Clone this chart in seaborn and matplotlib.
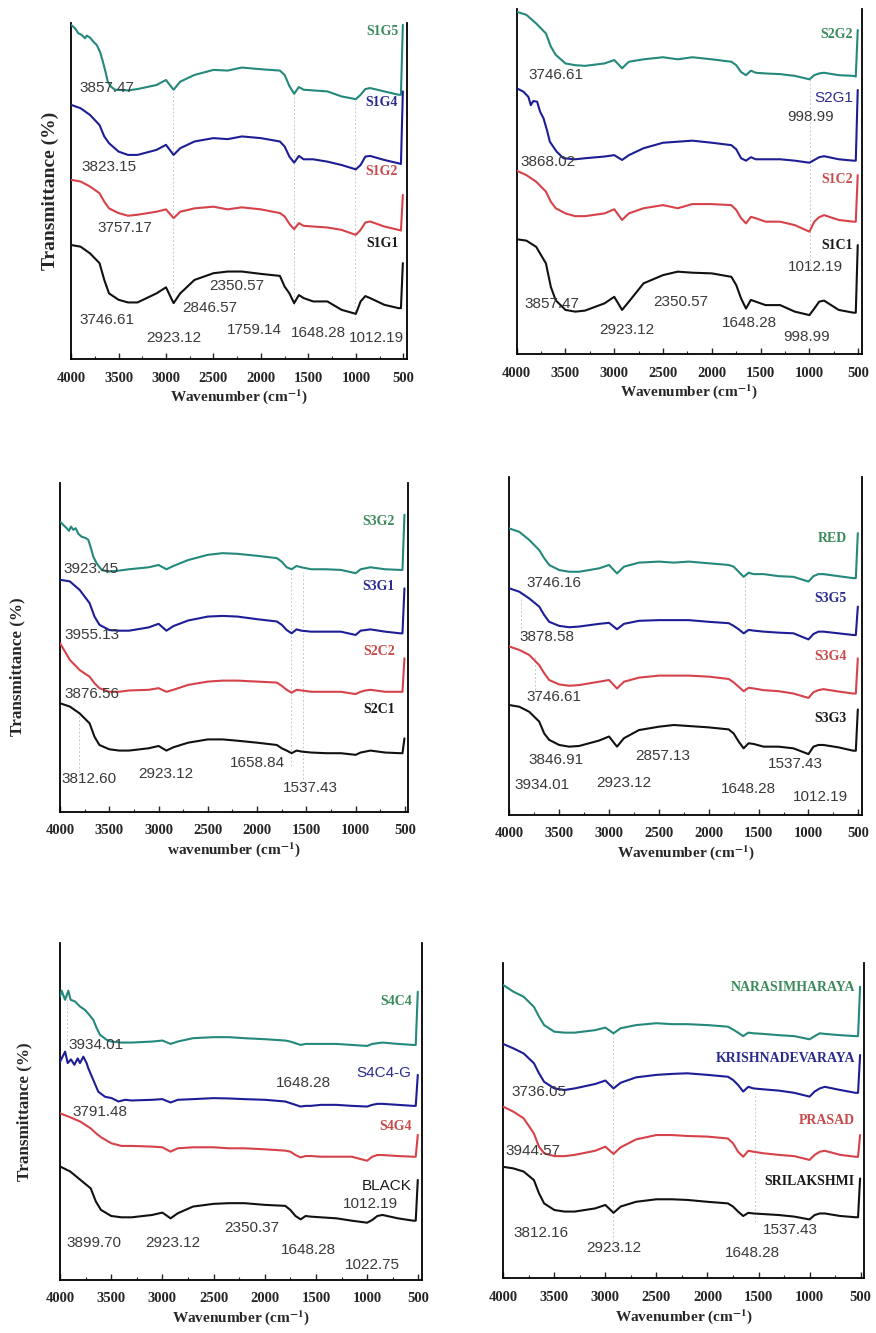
import matplotlib
matplotlib.use("Agg")
import matplotlib.pyplot as plt
import seaborn as sns
from matplotlib.ticker import MultipleLocator

# ---- data (offset transmittance, % of panel height) ----
WAVENUMBER = [4000, 3900, 3800, 3700, 3650, 3600, 3500, 3400, 3300, 3100, 3000, 2920,
              2850, 2700, 2500, 2350, 2200, 2000, 1800, 1750, 1700, 1650, 1600, 1550,
              1450, 1300, 1150, 1000, 950, 900, 850, 700, 550, 525, 505]

# noisy high-wavenumber ends get their own denser x
W_S1G5 = [4000, 3958, 3923, 3887, 3853, 3835, 3800, 3765, 3729, 3695, 3670, 3642, 3613, 3579, 3537] + WAVENUMBER[7:]
W_S2G1 = [4000, 3930, 3880, 3855, 3830, 3790, 3760, 3725, 3690, 3660, 3590, 3520] + WAVENUMBER[7:]
W_S3G2 = [4000, 3967, 3932, 3909, 3888, 3865, 3841, 3814, 3780, 3739, 3713, 3686, 3662, 3628, 3577, 3510] + WAVENUMBER[7:]
W_S4C4 = [4000, 3984, 3951, 3919, 3896, 3853, 3805, 3756, 3713, 3674, 3642, 3609, 3544] + WAVENUMBER[6:]
W_S4C4_G = [4000, 3950, 3925, 3893, 3860, 3827, 3805, 3772, 3740, 3724, 3675, 3626, 3560, 3495, 3430, 3365] + WAVENUMBER[8:]

S1G5 = [99.5, 98.5, 97, 96.5, 95.5, 96.3, 95.7, 94.5, 93.5, 91.5, 89.1, 86.1, 82.6, 81.1, 80.2,
        80, 80.4, 81.6, 83.1, 80.2, 82.6, 84.6, 86.1, 85.9, 86.8, 86.3, 85.9, 84.6, 81.3, 79, 81, 80.2,
        80, 79.7, 78.2, 77.4, 78.7, 80.4, 80.7, 79.7, 78.7, 78.7, 99.5]
S1G4 = [75.7, 74.7, 72.7, 69.7, 66.3, 64.3, 61.8, 60.8, 60.8, 62.3, 63.8, 60.8, 62.8, 64.8, 65.8, 65.5, 66.3, 65.8,
        64.8, 63.3, 60.3, 58.5, 60.5, 59.5, 59.5, 58.8, 57.8, 56.5, 57.8, 60.3, 60.5, 59.3, 58.3, 58.1, 79.7]
S1G2 = [53.4, 52.9, 51.4, 49.4, 46.9, 44.9, 43.5, 42.7, 43, 43.9, 44.6, 42, 43.9, 44.9, 45.4, 44.6, 45.2, 44.6,
        43.5, 42.5, 40.3, 38.7, 40.5, 39.7, 39.5, 39.2, 38.5, 37, 38.5, 40.7, 41, 39.5, 38.5, 38.3, 48.9]
S1G1 = [34, 33.5, 31.5, 28.6, 23.6, 19.6, 17.7, 16.9, 16.9, 19.6, 21.4, 16.7, 19.6, 23.6, 25.6, 26.1, 26.1, 25.4,
        24.8, 21.6, 19.6, 16.7, 19.1, 18.2, 17.2, 17.2, 14.7, 13.5, 17.2, 18.8, 18.2, 16.2, 15.2, 15.2, 28.6]

S2G2 = [99.3, 98.4, 95.9, 93, 89.2, 86.8, 84.3, 83.8, 83.6, 84.3, 85.3, 82.9, 84.8, 85.5, 86.1, 85.5, 86.1, 85.5,
        84.8, 83.8, 81.8, 80.9, 82.2, 81.6, 81.4, 81.2, 80.7, 79.7, 80.9, 81.4, 81.6, 80.9, 80.7, 80.5, 94]
S2G1 = [77.1, 76.1, 74.6, 72.2, 73.4, 73.2, 70.3, 68.4, 65, 61.6, 58.7, 56.8,
        56.5, 56.8, 57.3, 57.7, 56.3, 57.7, 59.7, 61.3, 61.6, 61.9, 61.3, 60.6, 59.4, 56.8, 56.1, 57.1,
        56.5, 56.5, 56.5, 56.1, 55.5, 56.3, 57.1, 57.4, 56.5, 56.1, 56.1, 76.6]
S1C2 = [53.2, 51.9, 50, 47.1, 44.2, 42.3, 40.8, 40, 40, 40.8, 42, 38.9, 40.8, 42.3, 43.2, 42.3, 43.5, 43.5,
        43.2, 41.8, 39.4, 37.9, 39.8, 39.4, 38.4, 38.4, 37.4, 35.5, 38.4, 39.7, 40.3, 38.9, 38.4, 38.4, 51.9]
S1C1 = [33.3, 32.9, 31.1, 26.3, 19.5, 15.6, 12.8, 12.3, 12.6, 14.7, 16.6, 12.8, 15.2, 20.5, 22.9, 23.9, 23.6, 23.4,
        22.4, 20, 16.1, 13.2, 15.7, 15.2, 14.2, 14.2, 12.3, 11.3, 13.2, 15.2, 15.5, 12.8, 12, 12, 31.6]

S3G2 = [88.3, 87.3, 86.3, 85.5, 86.8, 85.8, 86.3, 84.6, 83.7, 83.3, 82.8, 80.2, 77.6, 75.6, 73.6, 73.1,
        73.4, 73.8, 74.4, 75.1, 73.8, 74.8, 76.6, 78.2, 78.7, 78.5, 77.9, 77.2, 76.1, 74.4, 73.8, 74.8,
        74.4, 73.8, 73.8, 73.6, 72.6, 73.8, 74.1, 74.4, 73.8, 73.6, 73.6, 90.4]
S3G1 = [70.6, 70.1, 67.5, 63.5, 59.4, 56.9, 55.3, 55.1, 55.1, 56.1, 57.2, 55.1, 56.5, 58.2, 59.4, 59.6, 59.4, 58.6,
        57.9, 56.9, 55.3, 54.3, 55.5, 55.1, 54.8, 54.8, 54.8, 53.8, 55.1, 55.3, 55.5, 54.8, 54.3, 54.3, 68]
S2C2 = [51.3, 46.2, 43.1, 41.1, 39.1, 37.6, 36.5, 36.5, 36.9, 37.1, 37.6, 36.5, 37.1, 38.6, 39.6, 39.9, 39.9, 39.6,
        39.3, 38.3, 37.1, 36.2, 37.1, 36.9, 36.5, 36.5, 36.5, 35.8, 36.5, 36.9, 37.1, 36.5, 36.5, 36.5, 46.7]
S2C1 = [33, 32, 29.9, 26.9, 22.8, 20.3, 19, 18.6, 18.6, 19.3, 20, 18.6, 19.6, 21, 22, 22, 21.6, 21,
        20.3, 19.3, 18.6, 17.8, 18.6, 18.3, 18, 17.8, 17.8, 17.3, 18, 18.3, 18.6, 18, 17.8, 17.8, 22.3]

RED = [84.7, 83.7, 81.3, 78.3, 75.9, 73.9, 72.4, 71.9, 71.9, 72.9, 73.9, 71.4, 73.4, 74.6, 74.9, 74.6, 74.9, 74.4,
       73.9, 73.4, 71.9, 70.4, 71.6, 71.2, 71.2, 70.6, 70.4, 69, 70.6, 71.2, 71.2, 70.6, 70, 70, 83.3]
S3G5 = [67, 66, 64, 61.6, 59.1, 57.1, 55.9, 55.5, 55.7, 56.5, 56.8, 54.9, 56.5, 57.4, 57.6, 57.6, 57.6, 57.1,
        56.7, 55.9, 54.9, 53.7, 54.7, 54.5, 54.2, 53.9, 53.7, 51.9, 53.5, 54.2, 54.2, 53.7, 53.2, 53.2, 61.6]
S3G4 = [49.8, 48.8, 47.3, 44.3, 41.9, 39.9, 38.6, 38.2, 38.4, 39.4, 39.9, 37.4, 39.4, 40.6, 41.2, 41.2, 41.2, 40.9,
        40.2, 39.2, 37.9, 36.6, 37.6, 37.4, 36.9, 36.6, 35.9, 34.6, 36.3, 36.9, 37.2, 36.5, 35.9, 35.9, 46.3]
S3G3 = [32.5, 32, 30.5, 27.6, 24.1, 22.2, 20.7, 20.2, 20.4, 22, 23.2, 20.2, 22.7, 25.1, 26.1, 26.6, 26.3, 25.9,
        25.3, 24.1, 21.7, 19.7, 21.2, 21, 20.2, 20.2, 19.7, 18, 20.2, 20.7, 20.7, 20, 19, 19, 31.2]

S4C4 = [84.2, 85.9, 83.2, 85.9, 83.2, 82.7, 81.2, 80.2, 78.7, 77.2, 74.8, 72.8, 71.3,
        70.8, 70.5, 70.5, 70.8, 71.1, 70.1, 70.8, 71.8, 72.1, 72.1, 71.8, 71.5, 71.1, 70.8, 70.3, 69.8,
        70.1, 70.1, 70.1, 70.1, 69.8, 69.5, 70.1, 70.3, 70.5, 70.1, 69.8, 69.8, 85.6]
S4C4_G = [64.8, 67.8, 64.4, 65.5, 63.9, 65.8, 64.4, 66.3, 64.4, 62.9, 59.4, 55.9, 54.4, 54, 53, 53.5,
          53.3, 53.5, 53.7, 52.7, 53.5, 53.7, 54, 53.9, 53.7, 53.5, 53, 52.5, 52, 51.5, 51.7, 51.7,
          52, 52, 51.7, 51.5, 52, 52.3, 52.3, 52, 51.7, 51.7, 60.9]
S4G4 = [49.5, 48.3, 47, 45, 43.6, 42.4, 40.6, 39.8, 39.8, 39.6, 39.4, 38.1, 39.1, 39.4, 39.4, 39.1, 39.1, 38.8,
        38.4, 38.1, 37.1, 36.4, 36.8, 36.8, 36.6, 36.6, 36.6, 35.4, 36.6, 37.1, 37.1, 36.8, 36.6, 36.6, 43.1]
BLACK = [33.7, 32.2, 29.7, 27.2, 23.3, 20.8, 19, 18.6, 18.6, 19.3, 20, 18.3, 19.8, 21.8, 22.6, 22.8, 22.8, 22.3,
         22, 20.8, 19, 18, 19, 18.8, 18.6, 18.3, 17.6, 17, 17.8, 19, 19.3, 18.3, 17.6, 17.6, 29.7]

NARASIMHARAYA = [93.1, 91, 89.4, 86.2, 83.1, 80.4, 78.3, 78, 78, 78.8, 79.6, 77.8, 79.4, 80.4, 81, 80.7, 80.7, 80.4,
                 79.9, 79, 78, 76.9, 78, 77.8, 77.6, 77.2, 76.9, 75.9, 76.9, 77.8, 77.6, 77.2, 76.9, 76.9, 92.6]
KRISHNADEVARAYA = [74.4, 73, 71.4, 68.3, 65.1, 62.4, 60.3, 59.8, 60.3, 61.7, 62.8, 60.3, 62.1, 63.8, 64.6, 64.9, 65.1, 64.6,
                   64, 63, 61.4, 59.3, 60.8, 60.3, 60, 59.6, 58.9, 57.7, 59.3, 60.3, 60.8, 59.8, 58.9, 58.9, 70.9]
PRASAD = [54.5, 52.9, 50.8, 46, 41.8, 39.7, 38.8, 38.8, 39.2, 40.5, 41.8, 39.5, 41.6, 44.1, 45.5, 45.5, 45.2, 45,
          44.4, 42.9, 40.2, 38.6, 40.5, 40.2, 39.7, 39.2, 38.8, 37.6, 39.2, 40.2, 40.5, 39.2, 38.6, 38.6, 45.5]
SRILAKSHMI = [35.4, 34.9, 33.9, 31.2, 27, 23.8, 21.7, 21.2, 21.2, 22.2, 23.3, 20.8, 22.8, 24.3, 25.1, 25.1, 24.9, 24.3,
              23.8, 22.8, 21.2, 19.8, 20.8, 20.6, 20.4, 20.1, 19.6, 18.7, 20.1, 20.6, 20.6, 19.8, 19.4, 19.4, 31.7]

# ---- style ----
TEAL, BLUE, RED_C, BLK = "#24887c", "#1d1d95", "#d6424a", "#111111"
LAB_COLORS = ["#3b8a5c", "#2b2b8e", "#c94a4a", "#1a1a1a"]
SERIF = ["Liberation Serif", "DejaVu Serif"]
SANS = ["Liberation Sans", "DejaVu Sans"]

sns.set_style("white")
plt.rcParams["font.family"] = SERIF
plt.rcParams["font.weight"] = "bold"
plt.rcParams["mathtext.fontset"] = "stix"

W = WAVENUMBER
panels = [
    dict(rect=[0.0811, 0.7305, 0.3831, 0.2521],
         traces=[(W_S1G5, S1G5), (W, S1G4), (W, S1G2), (W, S1G1)],
         names=[("S1G5", False), ("S1G4", False), ("S1G2", False), ("S1G1", False)],
         name_x=555, name_y=[97.5, 76.5, 55.9, 34.5],
         notes=[("3857.47", 3916, 80.7), ("3823.15", 3888, 57.3), ("3757.17", 3719, 39),
                ("3746.61", 3916, 11.7), ("2923.12", 3203, 6.3), ("2846.57", 2824, 15.2),
                ("2350.57", 2547, 21.9), ("1759.14", 2361, 8.7), ("1648.28", 1683, 7.9),
                ("1012.19", 1069, 6.3)],
         guides=[(2923, 20, 80), (1648, 16, 79), (1012, 12, 77)],
         xlabel="Wavenumber (cm$^{-1}$)", ylabel=(-0.036, 0.5, 14)),
    dict(rect=[0.5898, 0.7344, 0.3938, 0.2586],
         traces=[(W, S2G2), (W_S2G1, S2G1), (W, S1C2), (W, S1C1)],
         names=[("S2G2", False), ("S2G1", True), ("S1C2", False), ("S1C1", False)],
         name_x=552, name_y=[92.6, 74.2, 50.5, 31.6],
         notes=[("3746.61", 3881, 80.9), ("998.99", 1224, 68.7), ("3868.02", 3959, 55.8),
                ("1012.19", 1224, 25.3), ("3857.47", 3925, 14.5), ("2350.57", 2600, 15.2),
                ("2923.12", 3157, 7), ("1648.28", 1893, 8.9), ("998.99", 1269, 5)],
         guides=[(999, 25, 80)],
         xlabel="Wavenumber (cm$^{-1}$)", ylabel=None),
    dict(rect=[0.0685, 0.3911, 0.3977, 0.2464],
         traces=[(W_S3G2, S3G2), (W, S3G1), (W, S2C2), (W, S2C1)],
         names=[("S3G2", False), ("S3G1", False), ("S2C2", False), ("S2C1", False)],
         name_x=601, name_y=[88.3, 68.5, 48.7, 31],
         notes=[("3923.45", 3966, 73.8), ("3955.13", 3959, 53.8), ("3876.56", 3959, 35.8),
                ("3812.60", 3983, 9.8), ("2923.12", 3205, 11.5), ("1658.84", 2275, 14.7),
                ("1537.43", 1734, 7.1)],
         guides=[(1658, 14, 73), (1537, 10, 73), (3812, 12, 30)],
         xlabel="wavenumber (cm$^{-1}$)", ylabel=(-0.10, 0.44, 12.3)),
    dict(rect=[0.5814, 0.3886, 0.4024, 0.2538],
         traces=[(W, RED), (W, S3G5), (W, S3G4), (W, S3G3)],
         names=[("RED", False), ("S3G5", False), ("S3G4", False), ("S3G3", False)],
         name_x=617, name_y=[81.8, 64, 46.8, 28.6],
         notes=[("3746.16", 3833, 68.5), ("3878.58", 3903, 52.7), ("3746.61", 3833, 35),
                ("3846.91", 3809, 16.3), ("2857.13", 2740, 17.4), ("1537.43", 1402, 15.1),
                ("3934.01", 3953, 8.9), ("2923.12", 3131, 9.6), ("1648.28", 1877, 7.6),
                ("1012.19", 1158, 5.4)],
         guides=[(3878, 53, 64), (3746, 37, 47), (1636, 20, 70)],
         xlabel="Wavenumber (cm$^{-1}$)", ylabel=None),
    dict(rect=[0.0685, 0.0398, 0.4131, 0.2526],
         traces=[(W_S4C4, S4C4), (W_S4C4_G, S4C4_G), (W, S4G4), (W, BLACK)],
         names=[("S4C4", False), ("S4C4-G", True), ("S4G4", False), ("BLACK", True)],
         name_x=565, name_y=[82.7, 61.4, 45.5, 27.9],
         notes=[("3934.01", 3919, 69.8), ("1648.28", 1890, 58.4), ("3791.48", 3876, 50),
                ("1012.19", 1232, 22.6), ("3899.70", 3941, 10.9), ("2923.12", 3170, 10.9),
                ("2350.37", 2398, 15.3), ("1648.28", 1844, 8.9), ("1022.75", 1216, 4.5)],
         guides=[(3934, 70, 85)],
         xlabel="Wavenumber (cm$^{-1}$)", ylabel=(-0.077, 0.5, 12.3)),
    dict(rect=[0.5745, 0.0410, 0.4120, 0.2363],
         traces=[(W, NARASIMHARAYA), (W, KRISHNADEVARAYA), (W, PRASAD), (W, SRILAKSHMI)],
         names=[("NARASIMHARAYA", False), ("KRISHNADEVARAYA", False), ("PRASAD", False), ("SRILAKSHMI", False)],
         name_x=556, name_y=[92.4, 69.8, 50, 30.7],
         notes=[("3736.05", 3918, 59.3), ("3944.57", 3974, 40.5), ("3812.16", 3896, 14.3),
                ("2923.12", 3190, 9.5), ("1537.43", 1453, 15.3), ("1648.28", 1829, 7.9)],
         guides=[(2923, 12, 78), (1537, 18, 59)],
         xlabel="Wavenumber (cm$^{-1}$)", ylabel=None),
]

fig = plt.figure(figsize=(8.76, 13.33), dpi=100)

for p in panels:
    ax = fig.add_axes(p["rect"])
    for w, y0, y1 in p["guides"]:
        ax.vlines(w, y0, y1, colors="#c9c9c9", lw=0.7, linestyles=(0, (2, 2)), zorder=1)
    for (xs, vals), col in zip(p["traces"], [TEAL, BLUE, RED_C, BLK]):
        sns.lineplot(x=xs, y=vals, ax=ax, color=col, lw=1.5,
                     estimator=None, sort=False, legend=False, zorder=3)
    ax.set_xlim(4000, 465)
    ax.set_ylim(0, 100)
    ax.xaxis.set_major_locator(MultipleLocator(500))
    ax.xaxis.set_minor_locator(MultipleLocator(250))
    ax.set_yticks([])
    ax.tick_params(axis="x", which="major", direction="in", length=4, width=1,
                   labelsize=10.5, pad=9, bottom=True)
    ax.tick_params(axis="x", which="minor", direction="in", length=2, width=0.8, bottom=True)
    ax.spines["top"].set_visible(False)
    for s in ["left", "bottom", "right"]:
        ax.spines[s].set_color("black")
        ax.spines[s].set_linewidth(1.3)

    ax.set_xlabel(p["xlabel"], fontsize=11, fontweight="bold", labelpad=2)
    if p["ylabel"] is not None:
        lx, ly, fs = p["ylabel"]
        ax.set_ylabel("Transmittance (%)", fontsize=fs, fontweight="bold")
        ax.yaxis.set_label_coords(lx, ly)
    else:
        ax.set_ylabel("")

    for (txt, sans), y, c in zip(p["names"], p["name_y"], LAB_COLORS):
        if sans:
            ax.text(p["name_x"], y, txt, ha="right", va="center", color=c,
                    fontsize=11, family=SANS, fontweight="normal", zorder=4)
        else:
            ax.text(p["name_x"], y, txt, ha="right", va="center", color=c,
                    fontsize=10, family=SERIF, fontweight="bold", zorder=4)

    for txt, w, y in p["notes"]:
        ax.text(w, y, txt, ha="left", va="center", color="#3a3a3a", fontsize=11,
                family=SANS, fontweight="normal", zorder=4)

fig.savefig("out.png", dpi=100)
